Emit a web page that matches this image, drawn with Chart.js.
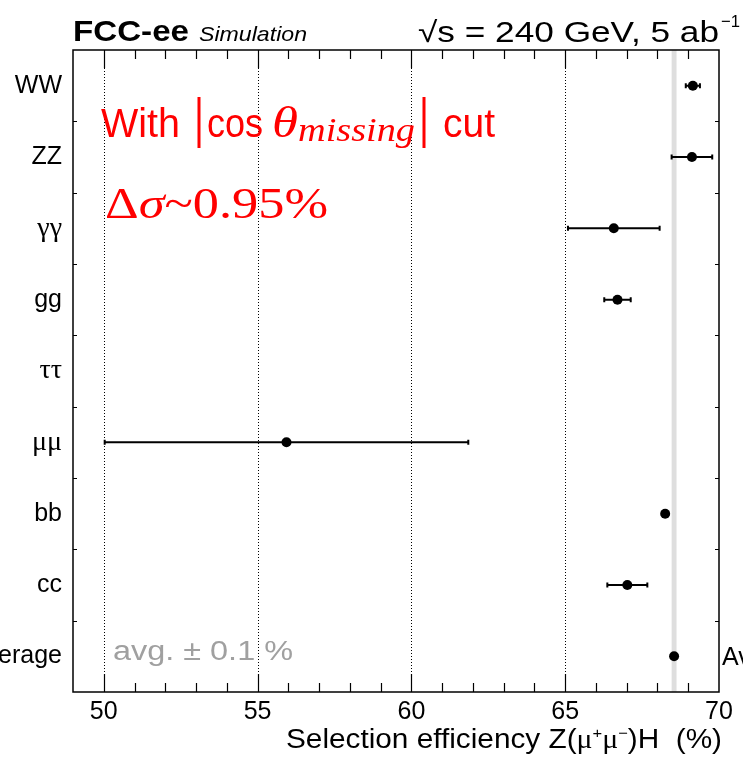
<!DOCTYPE html>
<html>
<head>
<meta charset="utf-8">
<script src="https://cdn.jsdelivr.net/npm/chart.js@4.4.0/dist/chart.umd.min.js"></script>
<style>
  html, body { margin: 0; padding: 0; background: #fff; }
</style>
</head>
<body>
<canvas id="chart" width="743" height="757"></canvas>
<script>
// values
const categories = ["WW", "ZZ", "γγ", "gg", "ττ", "μμ", "bb", "cc", "Average"];
const efficiency = [69.15, 69.12, 66.58, 66.70, null, 55.94, 68.25, 67.02, 68.54];
const errors = [0.23, 0.66, 1.49, 0.43, null, 5.91, 0.05, 0.65, 0];
const avgValue = 68.54;
const avgBand = 0.08;
const xTickLabels = [50, 55, 60, 65, 70];
const dottedLines = [50, 55, 60, 65];

const SANS = '"Liberation Sans", Arial, sans-serif';
const SERIF = '"Liberation Serif", "Times New Roman", serif';
const isGreek = (s) => /[\u0370-\u03FF]/.test(s);

// draw text squeezed/stretched to a given width
function fitText(ctx, text, font, x, y, w) {
  ctx.font = font;
  const m = ctx.measureText(text).width;
  ctx.save();
  ctx.translate(x, y);
  ctx.scale(w / m, 1);
  ctx.fillText(text, 0, 0);
  ctx.restore();
}

// several text pieces with their own fonts, fitted to one width
function richText(ctx, segs, x, y, w) {
  let total = 0;
  const widths = segs.map((s) => {
    ctx.font = s.font;
    const m = ctx.measureText(s.t).width;
    total += m;
    return m;
  });
  ctx.save();
  ctx.translate(x, y);
  ctx.scale(w / total, 1);
  let cx = 0;
  segs.forEach((s, i) => {
    ctx.font = s.font;
    ctx.fillText(s.t, cx, s.dy || 0);
    cx += widths[i];
  });
  ctx.restore();
}

const rootStyle = {
  id: "rootStyle",
  beforeDatasetsDraw(chart) {
    const { ctx, chartArea: a, scales: { x, y } } = chart;
    ctx.save();
    // average band
    const b0 = x.getPixelForValue(avgValue - avgBand);
    const b1 = x.getPixelForValue(avgValue + avgBand);
    ctx.fillStyle = "#dedede";
    ctx.fillRect(b0, a.top, b1 - b0, a.bottom - a.top);

    // dotted grid
    ctx.strokeStyle = "#000";
    ctx.lineWidth = 1;
    ctx.setLineDash([1, 2]);
    dottedLines.forEach((v) => {
      const px = Math.round(x.getPixelForValue(v)) + 0.5;
      ctx.beginPath();
      ctx.moveTo(px, a.top);
      ctx.lineTo(px, a.bottom);
      ctx.stroke();
    });
    ctx.setLineDash([]);

    // error bars
    ctx.lineWidth = 2;
    categories.forEach((c, i) => {
      if (efficiency[i] == null || !errors[i]) return;
      const py = y.getPixelForValue(i);
      const l = x.getPixelForValue(efficiency[i] - errors[i]);
      const r = x.getPixelForValue(efficiency[i] + errors[i]);
      ctx.beginPath();
      ctx.moveTo(l, py);
      ctx.lineTo(r, py);
      ctx.moveTo(l, py - 2.5);
      ctx.lineTo(l, py + 2.5);
      ctx.moveTo(r, py - 2.5);
      ctx.lineTo(r, py + 2.5);
      ctx.stroke();
    });
    ctx.restore();
  },
  afterDatasetsDraw(chart) {
    const { ctx, chartArea: a, scales: { x, y } } = chart;
    ctx.save();
    ctx.strokeStyle = "#000";
    ctx.lineWidth = 1.5;
    ctx.strokeRect(a.left, a.top, a.right - a.left, a.bottom - a.top);

    // ROOT style inward ticks
    ctx.lineWidth = 1.2;
    ctx.beginPath();
    for (let v = 50; v < 70; v++) {
      const px = Math.round(x.getPixelForValue(v)) + 0.5;
      const len = v % 5 === 0 ? 18 : 9;
      ctx.moveTo(px, a.bottom);
      ctx.lineTo(px, a.bottom - len);
      ctx.moveTo(px, a.top);
      ctx.lineTo(px, a.top + len);
    }
    for (let i = 1; i < categories.length; i++) {
      const py = Math.round((y.getPixelForValue(i - 1) + y.getPixelForValue(i)) / 2) + 0.5;
      ctx.moveTo(a.left, py);
      ctx.lineTo(a.left + 4, py);
      ctx.moveTo(a.right, py);
      ctx.lineTo(a.right - 4, py);
    }
    ctx.stroke();
    ctx.restore();
  },
  afterDraw(chart) {
    const { ctx, chartArea: a, scales: { y } } = chart;
    ctx.save();
    ctx.textBaseline = "alphabetic";
    ctx.textAlign = "left";
    ctx.fillStyle = "#000";

    // header
    fitText(ctx, "FCC-ee", "bold 30px " + SANS, 73, 41, 116);
    fitText(ctx, "Simulation", "italic 21px " + SANS, 199, 41, 108);
    fitText(ctx, "√s = 240 GeV, 5 ab", "29px " + SANS, 418, 42, 301);
    fitText(ctx, "−1", "17px " + SANS, 721, 27, 19);

    // axis title
    richText(ctx, [
      { t: "Selection efficiency Z(", font: "27px " + SANS },
      { t: "μ", font: "27px " + SERIF },
      { t: "+", font: "15px " + SANS, dy: -10 },
      { t: "μ", font: "27px " + SERIF },
      { t: "−", font: "15px " + SANS, dy: -10 },
      { t: ")H  (%)", font: "27px " + SANS }
    ], 286, 748, 436);

    // right hand label of the average row
    ctx.font = "25px " + SANS;
    ctx.fillText("Average", a.right + 3, y.getPixelForValue(categories.length - 1) + 8.5);

    // average annotation
    ctx.fillStyle = "#a0a0a0";
    fitText(ctx, "avg. ± 0.1 %", "27px " + SANS, 113, 660, 180);

    // red notes
    ctx.fillStyle = "#ff0000";
    fitText(ctx, "With", "40px " + SANS, 101, 137, 79);
    fitText(ctx, "cos", "40px " + SANS, 207, 137, 56);
    fitText(ctx, "θ", "italic 44px " + SERIF, 272, 137, 26);
    fitText(ctx, "missing", "italic 33px " + SERIF, 298, 141, 117);
    fitText(ctx, "cut", "40px " + SANS, 443, 137, 52);
    ctx.strokeStyle = "#ff0000";
    ctx.lineWidth = 3;
    ctx.beginPath();
    ctx.moveTo(199, 97);
    ctx.lineTo(199, 148);
    ctx.moveTo(424, 97);
    ctx.lineTo(424, 148);
    ctx.stroke();

    richText(ctx, [
      { t: "Δ", font: "45px " + SERIF },
      { t: "σ", font: "italic 45px " + SERIF },
      { t: "~0.95%", font: "45px " + SERIF }
    ], 105, 218, 223);
    ctx.restore();
  }
};

const points = categories
  .map((c, i) => ({ x: efficiency[i], y: c }))
  .filter((p) => p.x != null);

const ctx = document.getElementById("chart").getContext("2d");
new Chart(ctx, {
  type: "scatter",
  data: {
    datasets: [
      {
        label: "Selection efficiency",
        data: points,
        pointRadius: 5,
        pointBackgroundColor: "#000",
        pointBorderWidth: 0,
        showLine: false
      }
    ]
  },
  options: {
    responsive: false,
    animation: false,
    events: [],
    layout: { padding: { top: 50, right: 24, left: 0, bottom: 0 } },
    plugins: {
      legend: { display: false },
      tooltip: { enabled: false }
    },
    scales: {
      x: {
        type: "linear",
        min: 49,
        max: 70,
        grid: { display: false, drawTicks: false },
        border: { display: false },
        ticks: {
          stepSize: 1,
          autoSkip: false,
          maxRotation: 0,
          padding: 5,
          color: "#000",
          font: { family: SANS, size: 25 },
          callback: (v) => (xTickLabels.includes(v) ? String(v) : "")
        },
        afterFit: (s) => { s.height = 65; }
      },
      y: {
        type: "category",
        labels: categories,
        offset: true,
        grid: { display: false, drawTicks: false },
        border: { display: false },
        ticks: {
          padding: 11,
          color: "#000",
          font: (c) => ({
            family: isGreek(categories[c.index] || "") ? SERIF : SANS,
            size: isGreek(categories[c.index] || "") ? 28 : 25
          })
        },
        afterFit: (s) => { s.width = 73; }
      }
    }
  },
  plugins: [rootStyle]
});
</script>
</body>
</html>
